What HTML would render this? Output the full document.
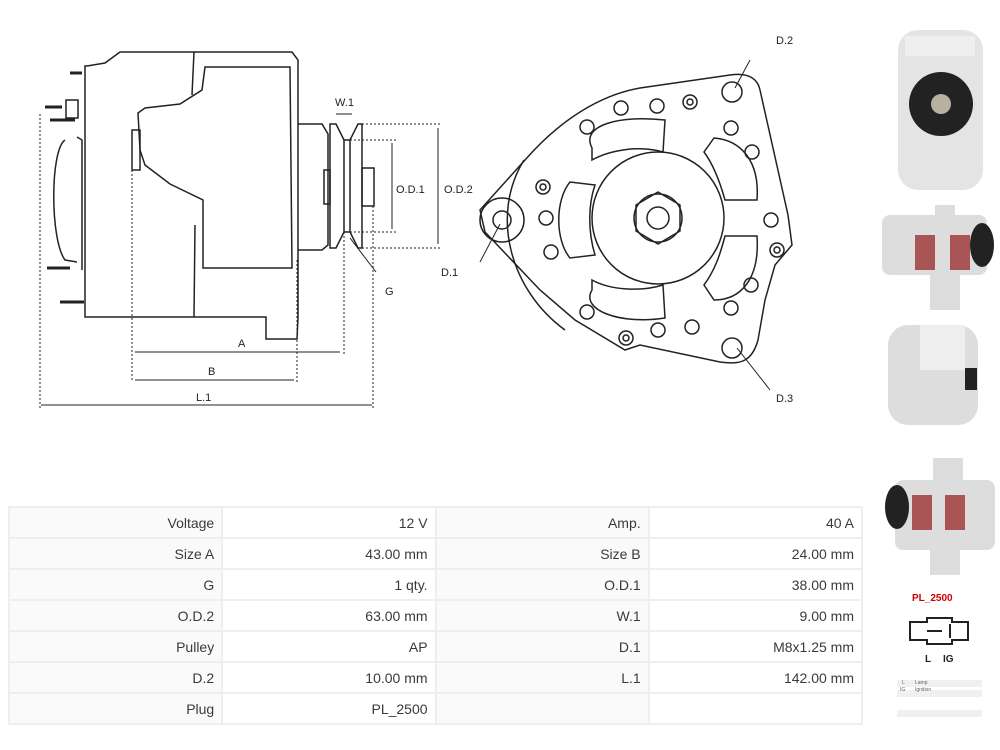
<!DOCTYPE html>
<html><head><style>
body{margin:0;background:#fff;width:1000px;height:750px;overflow:hidden;font-family:"Liberation Sans",sans-serif}
svg{position:absolute;left:0;top:0}
table{position:absolute;left:8px;top:506px;border-collapse:collapse;width:855px;font-size:14px;color:#3a3a3a}
td{border:2px solid #eee;height:29px;text-align:right;padding:0 7px;width:199px}
td.l{background:#fafafa}
</style></head><body>
<svg width="1000" height="750" viewBox="0 0 1000 750" fill="none" stroke="#222" stroke-width="1.5">
<!-- side view -->
<path d="M87 66 L105 63 L120 52 L292 52 L298 60 L298 317 L297 339 L266 339 L266 317 L85 317 L85 66 Z"/>
<path d="M194 52 L192 95 M194 317 L195 225"/>
<path d="M205 67 L290 67 L292 268 L203 268 L203 200 L170 184 L145 165 L140 150 L138 113 L145 108 L180 104 L202 90 Z"/>
<rect x="132" y="130" width="8" height="40"/>
<path d="M298 124 L322 124 L328 134 L328 245 L322 250 L298 250"/>
<rect x="324" y="170" width="6" height="34"/>
<path d="M330 124 L336 124 L344 140 L350 140 L358 124 L362 124 L362 248 L358 248 L350 232 L344 232 L336 248 L330 248 Z"/>
<path d="M344 140 L344 232 M350 140 L350 232"/>
<rect x="362" y="168" width="12" height="38"/>
<g stroke-width="3"><path d="M70 73 L82 73 M45 107 L62 107 M50 120 L75 120 M47 268 L70 268 M60 302 L84 302"/></g>
<path d="M66 100 L78 100 L78 118 L66 118 Z M77 137 L82 140 L82 270 M65 140 C50 150 50 240 65 260 L77 262"/>
<g stroke-width="1" stroke-dasharray="2 2">
<path d="M40 114 L40 408 M132 170 L132 382 M297 260 L297 382 M344 232 L344 356 M373 206 L373 408 M362 124 L440 124 M362 248 L440 248 M350 140 L396 140 M350 232 L396 232"/>
</g>
<g stroke-width="1">
<path d="M41 405 L372 405 M135 380 L294 380 M135 352 L340 352 M336 114 L352 114 M392 143 L392 229 M438 128 L438 244"/>
<path d="M350 238 L376 272 M500 224 L480 262 M750 60 L735 88 M737 348 L770 390"/>
</g>
<g fill="#222" stroke="none" font-size="11">
<text x="238" y="347">A</text><text x="208" y="375">B</text><text x="196" y="401">L.1</text>
<text x="335" y="106">W.1</text><text x="396" y="193">O.D.1</text><text x="444" y="193">O.D.2</text>
<text x="385" y="295">G</text><text x="441" y="276">D.1</text><text x="776" y="44">D.2</text><text x="776" y="402">D.3</text>
<text x="912" y="601" fill="#c00" font-weight="bold" font-size="10">PL_2500</text>
<text x="925" y="662" font-weight="bold" font-size="10">L</text><text x="943" y="662" font-weight="bold" font-size="10">IG</text>
</g>
<!-- front view -->
<path d="M480 210 L525 160 C560 120 600 95 640 88 L730 75 C750 72 758 80 760 90 L788 215 L792 245 L775 265 L765 300 L758 340 C752 362 740 365 720 362 L640 345 L625 350 L575 320 L540 290 L485 232 Z"/>
<path d="M524 160 C490 215 510 290 565 330"/>
<circle cx="502" cy="220" r="22"/><circle cx="502" cy="220" r="9"/>
<circle cx="658" cy="218" r="66"/><circle cx="658" cy="218" r="24"/>
<path d="M658 192 L680 205 L680 231 L658 244 L636 231 L636 205 Z"/><circle cx="658" cy="218" r="11"/>
<circle cx="732" cy="92" r="10"/><circle cx="732" cy="348" r="10"/>
<g>
<circle cx="621" cy="108" r="7"/><circle cx="657" cy="106" r="7"/><circle cx="587" cy="127" r="7"/>
<circle cx="731" cy="128" r="7"/><circle cx="752" cy="152" r="7"/><circle cx="771" cy="220" r="7"/>
<circle cx="751" cy="285" r="7"/><circle cx="731" cy="308" r="7"/><circle cx="692" cy="327" r="7"/>
<circle cx="658" cy="330" r="7"/><circle cx="587" cy="312" r="7"/><circle cx="546" cy="218" r="7"/><circle cx="551" cy="252" r="7"/>
<circle cx="690" cy="102" r="7"/><circle cx="690" cy="102" r="3"/>
<circle cx="543" cy="187" r="7"/><circle cx="543" cy="187" r="3"/>
<circle cx="777" cy="250" r="7"/><circle cx="777" cy="250" r="3"/>
<circle cx="626" cy="338" r="7"/><circle cx="626" cy="338" r="3"/>
</g>
<path d="M592 148 C580 125 620 115 665 120 L663 152 C640 145 610 150 592 160 Z"/>
<path d="M704 152 L714 138 C740 140 760 160 757 200 L725 200 C718 175 710 160 704 152 Z"/>
<path d="M725 236 L757 236 C760 280 740 300 714 300 L704 285 C715 270 720 255 725 236 Z"/>
<path d="M592 280 C610 290 640 292 663 285 L665 318 C620 325 580 310 592 290 Z"/>
<path d="M595 185 L570 182 C555 200 555 240 570 258 L595 255 C588 232 588 205 595 185 Z"/>
<!-- photos -->
<g stroke="none">
<rect x="898" y="30" width="85" height="160" rx="20" fill="#e4e4e4"/>
<circle cx="941" cy="104" r="32" fill="#222"/><circle cx="941" cy="104" r="10" fill="#b8b0a0"/>
<rect x="905" y="36" width="70" height="20" fill="#eee"/>
<rect x="935" y="205" width="20" height="18" fill="#ddd"/>
<rect x="882" y="215" width="105" height="60" rx="8" fill="#ddd"/>
<rect x="930" y="275" width="30" height="35" fill="#ddd"/>
<rect x="915" y="235" width="20" height="35" fill="#a55"/><rect x="950" y="235" width="20" height="35" fill="#a55"/>
<ellipse cx="982" cy="245" rx="12" ry="22" fill="#222"/>
<rect x="888" y="325" width="90" height="100" rx="20" fill="#ddd"/>
<rect x="920" y="325" width="45" height="45" fill="#eee"/><rect x="965" y="368" width="12" height="22" fill="#222"/>
<rect x="933" y="458" width="30" height="30" fill="#ddd"/>
<rect x="895" y="480" width="100" height="70" rx="8" fill="#ddd"/>
<ellipse cx="897" cy="507" rx="12" ry="22" fill="#222"/>
<rect x="912" y="495" width="20" height="35" fill="#a55"/><rect x="945" y="495" width="20" height="35" fill="#a55"/>
<rect x="930" y="550" width="30" height="25" fill="#ddd"/>
<rect x="897" y="680" width="85" height="7" fill="#f0f0f0"/><rect x="897" y="690" width="85" height="7" fill="#f0f0f0"/><rect x="897" y="710" width="85" height="7" fill="#f0f0f0"/>
</g>
<path d="M910 622 L927 622 L927 618 L952 618 L952 622 L968 622 L968 640 L952 640 L952 644 L927 644 L927 640 L910 640 Z" stroke-width="2"/>
<path d="M927 631 L942 631 M950 624 L950 638" stroke-width="2"/>
<g fill="#666" stroke="none" font-size="5"><text x="902" y="684">L</text><text x="915" y="684">Lamp</text><text x="900" y="691">IG</text><text x="915" y="691">Ignition</text></g>
</svg>
<table>
<tr><td class="l">Voltage</td><td>12 V</td><td class="l">Amp.</td><td>40 A</td></tr>
<tr><td class="l">Size A</td><td>43.00 mm</td><td class="l">Size B</td><td>24.00 mm</td></tr>
<tr><td class="l">G</td><td>1 qty.</td><td class="l">O.D.1</td><td>38.00 mm</td></tr>
<tr><td class="l">O.D.2</td><td>63.00 mm</td><td class="l">W.1</td><td>9.00 mm</td></tr>
<tr><td class="l">Pulley</td><td>AP</td><td class="l">D.1</td><td>M8x1.25 mm</td></tr>
<tr><td class="l">D.2</td><td>10.00 mm</td><td class="l">L.1</td><td>142.00 mm</td></tr>
<tr><td class="l">Plug</td><td>PL_2500</td><td class="l"></td><td></td></tr>
</table>
</body></html>
